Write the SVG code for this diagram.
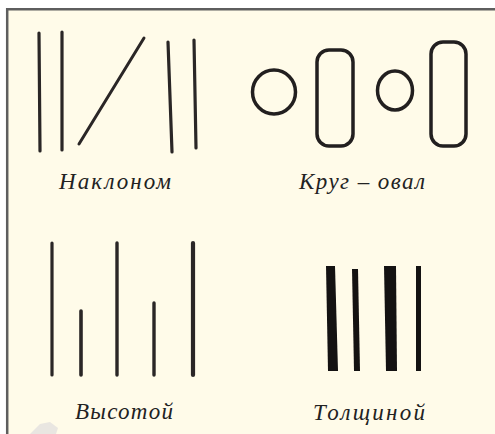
<svg xmlns="http://www.w3.org/2000/svg" width="495" height="434" viewBox="0 0 495 434">
<style>
.bg{fill:#fffbe9}
.frame{fill:none;stroke:#5e5e5e;stroke-width:2.5}
.ln{stroke:#2a2626;stroke-linecap:round;fill:none}
.ov{stroke:#221f1f;fill:none;stroke-width:3.5}
.lbl{font-family:"Liberation Serif","DejaVu Serif",serif;font-style:italic;font-size:23px;fill:#222}
</style>
<rect width="495" height="434" fill="#ffffff"/>
<rect x="7" y="9" width="490" height="430" class="bg"/>
<path class="frame" d="M7.2,440 V9.2 H497"/>
<path d="M30,434 L40,424 L50,422 L58,428 L56,434 Z" fill="#e3e1df" opacity="0.8"/>
<g id="naklonom">
<line class="ln" x1="39" y1="33" x2="40" y2="151" stroke-width="3.2"/>
<line class="ln" x1="62" y1="32" x2="62" y2="150" stroke-width="3.2"/>
<line class="ln" x1="79" y1="144" x2="144" y2="38" stroke-width="3"/>
<line class="ln" x1="168" y1="42" x2="172" y2="152" stroke-width="3.2"/>
<line class="ln" x1="194" y1="40" x2="196" y2="148" stroke-width="3.2"/>
<text class="lbl" x="59" y="189" textLength="112" lengthAdjust="spacing">Наклоном</text>
</g>
<g id="krug-oval">
<ellipse class="ov" cx="274" cy="92" rx="21.5" ry="22" stroke-width="3"/>
<rect class="ov" x="317" y="50" width="36" height="96" rx="12" ry="12"/>
<ellipse class="ov" cx="395" cy="90.5" rx="17.5" ry="19.5" stroke-width="3"/>
<rect class="ov" x="431" y="42" width="35" height="104" rx="12" ry="12"/>
<text class="lbl" x="299" y="189" textLength="126" lengthAdjust="spacing">Круг – овал</text>
</g>
<g id="vysotoy">
<line class="ln" x1="52" y1="243" x2="52" y2="375" stroke-width="3.2"/>
<line class="ln" x1="81" y1="311" x2="81" y2="375" stroke-width="3.6"/>
<line class="ln" x1="117" y1="243" x2="117" y2="375" stroke-width="3.4"/>
<line class="ln" x1="154" y1="303" x2="154" y2="375" stroke-width="3.4"/>
<line class="ln" x1="193" y1="243" x2="193" y2="375" stroke-width="4.2"/>
<text class="lbl" x="75" y="419" textLength="98" lengthAdjust="spacing">Высотой</text>
</g>
<g id="tolshchinoy">
<path d="M326,266 L335,266 L338,371 L328,371 Z" fill="#141212"/>
<path d="M352,269 L358,269 L360,371 L354,371 Z" fill="#141212"/>
<path d="M384,266 L396,266 L397,371 L386,371 Z" fill="#141212"/>
<path d="M416,266 L421,266 L421,371 L416,371 Z" fill="#141212"/>
<text class="lbl" x="313" y="420" textLength="112" lengthAdjust="spacing">Толщиной</text>
</g>
</svg>
